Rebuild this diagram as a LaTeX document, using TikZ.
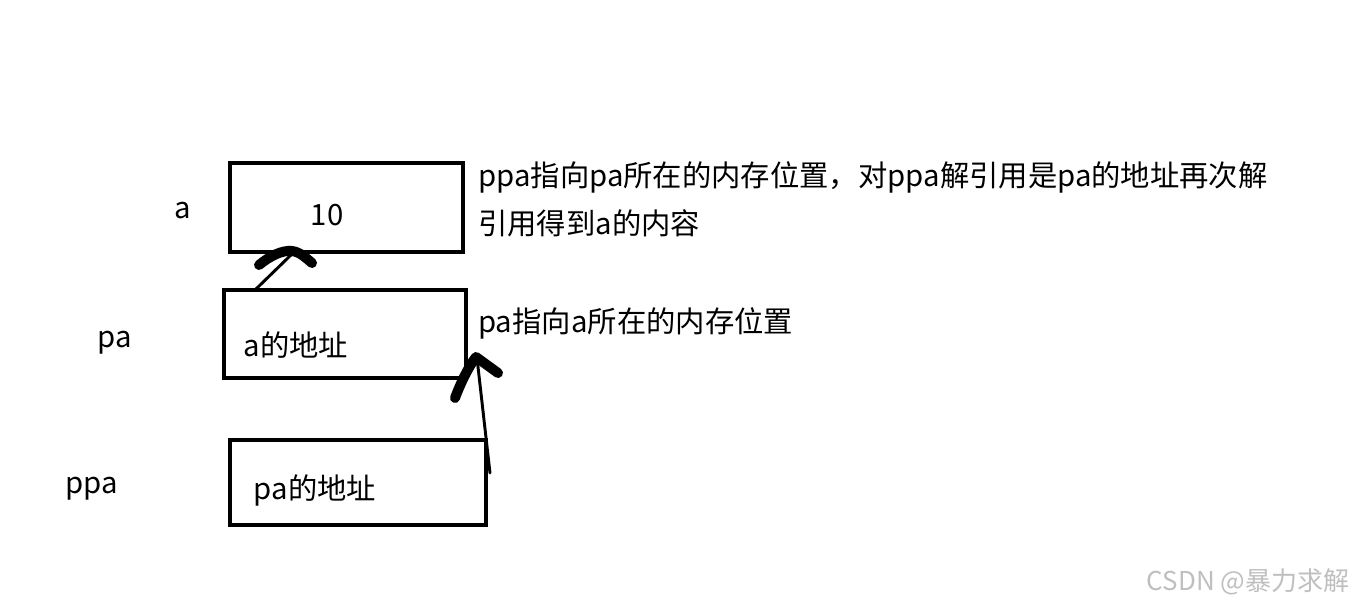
\documentclass[tikz,border=0pt]{standalone}
\usepackage{fontspec}
\setmainfont{Noto Sans CJK SC}
\usetikzlibrary{positioning,calc}

\begin{document}
\begin{tikzpicture}[x=0.75pt,y=-0.75pt,>=stealth,
  cell/.style={draw,line width=3pt,inner sep=0pt},
  txt/.style={font=\fontsize{22}{36}\selectfont,inner sep=0pt},
  shaft/.style={line width=2.2pt,line cap=round},
  headstroke/.style={line width=7.5pt,line cap=round,line join=round}]

  \useasboundingbox (0,0) rectangle (1355,606);

  % ------- 变量名 -------
  \node[txt] (lab-a)   at (183,211) {a};
  \node[txt] (lab-pa)  at (115,343) {pa};
  \node[txt] (lab-ppa) at (92,489)  {ppa};

  % ------- 内存格子 -------
  \node[cell,minimum width=174.75pt,minimum height=66.75pt] (box-a)   at (346.5,207.5) {};
  \node[cell,minimum width=181.5pt,minimum height=66pt]     (box-pa)  at (345,334)     {};
  \node[cell,minimum width=192pt,minimum height=63.75pt]    (box-ppa) at (358,482.5)   {};

  \node[txt] (val-a)   at (327,215) {10};
  \node[txt] (val-pa)  at (296,345) {a的地址};
  \node[txt] (val-ppa) at (315,490) {pa的地址};

  % ------- 说明文字 -------
  \node[txt,anchor=west,align=left] (note-ppa) at (478,199)
    {ppa指向pa所在的内存位置，对ppa解引用是pa的地址再次解\\引用得到a的内容};
  \node[txt,anchor=west] (note-pa) at (478,323) {pa指向a所在的内存位置};

  % ------- 手绘箭头：pa -> a -------
  \coordinate (tail-pa) at (255,290);
  \coordinate (tip-a)   at (293,253);
  \draw[shaft] (tail-pa) -- (tip-a);
  \draw[headstroke] (259,265) .. controls (270,256) and (282,250) .. (292,251)
                              .. controls (300,252) and (306,258) .. (312,263);

  % ------- 手绘箭头：ppa -> pa -------
  \coordinate (tail-ppa) at (490,473);
  \coordinate (tip-pa)   at (477,358);
  \draw[shaft] (tail-ppa) -- (tip-pa);
  \draw[headstroke] (455,398) .. controls (461,382) and (469,366) .. (476,357)
                              -- (498,373);

  % ------- 水印 -------
  \node[font=\fontsize{19.5}{21}\selectfont,text=black!25,inner sep=0pt] (mark) at (1248,582) {CSDN @暴力求解};

\end{tikzpicture}
\end{document}
